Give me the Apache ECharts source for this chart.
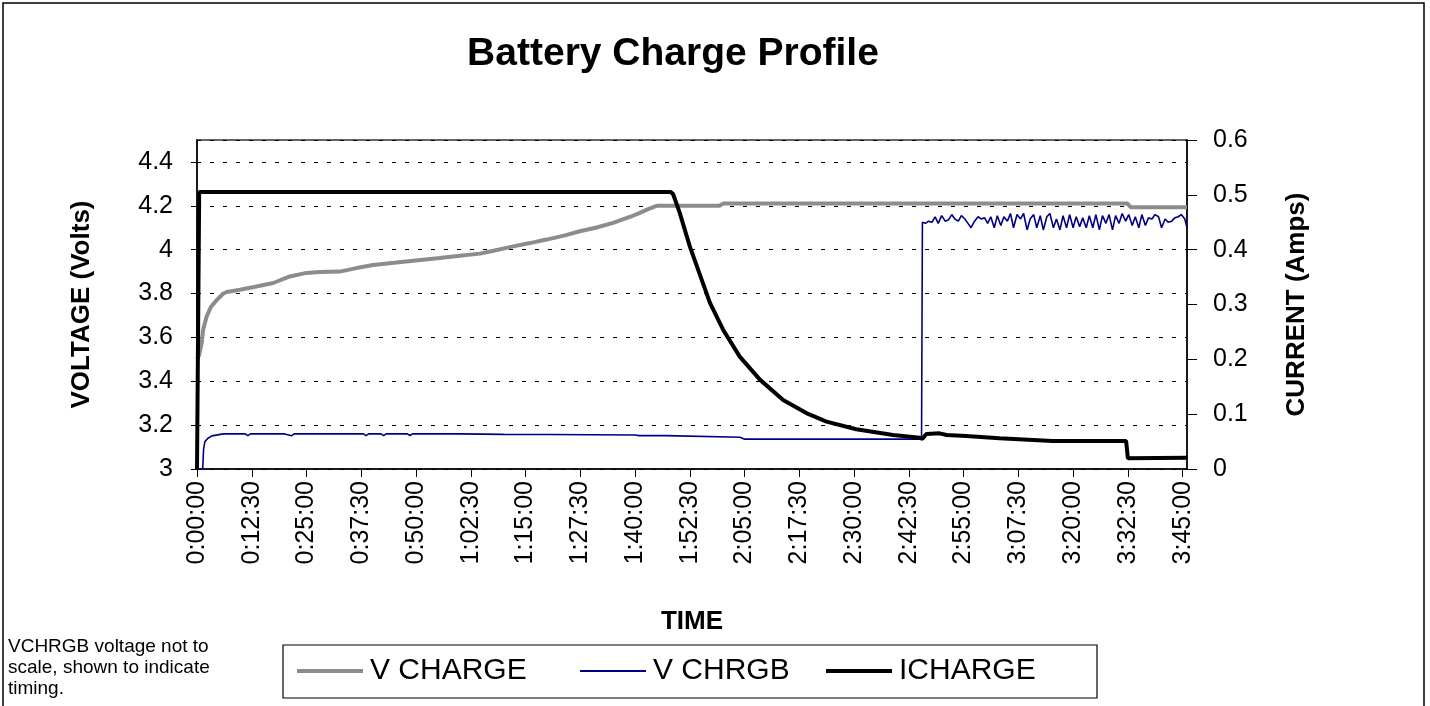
<!DOCTYPE html>
<html>
<head>
<meta charset="utf-8">
<title>Battery Charge Profile</title>
<script src="https://cdn.jsdelivr.net/npm/echarts@6/dist/echarts.min.js"></script>
<style>
	html, body { margin: 0; padding: 0; background: #fff; }
	#chart { width: 1430px; height: 706px; }
</style>
</head>
<body>
<div id="chart"></div>
<script>
// time in minutes from start of charge
var vchargeTime = [0, 0.5, 1.07, 1.4, 2.2, 3.2, 4.5, 6, 6.8, 9.8, 13, 17.4, 21.2, 25, 28, 32.6, 36.4, 40.2, 45, 51.6, 55.4, 60, 64.6, 66.9, 72.2, 76, 79.8, 84, 87.4, 91, 95, 98.8, 101.1, 103, 104.9, 110, 119.3, 120.1, 140, 160, 180, 200, 212.4, 213.2, 226];
var vchargeVolts = [3.50, 3.52, 3.574, 3.635, 3.695, 3.74, 3.77, 3.80, 3.807, 3.817, 3.83, 3.848, 3.878, 3.894, 3.898, 3.90, 3.916, 3.93, 3.94, 3.954, 3.962, 3.972, 3.982, 3.992, 4.015, 4.03, 4.046, 4.065, 4.084, 4.10, 4.122, 4.149, 4.168, 4.185, 4.20, 4.20, 4.20, 4.21, 4.21, 4.21, 4.21, 4.21, 4.21, 4.193, 4.193];

var chrgbTime = [0, 1.3, 1.5, 1.8, 2.5, 3.4, 6, 11, 11.6, 12.2, 20, 21.6, 22.2, 30, 38, 38.6, 39.2, 42, 42.6, 43.2, 48, 48.6, 49.2, 60, 70, 80, 90, 100, 101, 107, 124, 125, 140, 150, 160, 165.4,
	165.6, 166.3, 167, 167.8, 168.5, 169.2, 170, 170.8, 171.5, 172.3, 173, 173.8, 174.5, 175.3, 176, 176.7, 177.5, 178.3, 179, 179.8, 180.5, 181.2, 182, 182.7, 183.5, 184.2, 185, 185.7, 186.4, 187.2, 188, 188.7, 189.5, 190.2, 191, 191.7, 192.5, 193.2, 194, 194.7, 195.5, 196.2, 197, 197.7, 198.5, 199.2, 200, 200.7, 201.5, 202.2, 203, 203.7, 204.5, 205.2, 206, 206.7, 207.5, 208.2, 209, 209.7, 210.5, 211.2, 212, 212.7, 213.5, 214.2, 215, 215.7, 216.5, 217.2, 218, 218.7, 219.5, 220.2, 221, 221.7, 222.5, 223.2, 224, 224.7, 225.5, 226];
var chrgbVolts = [3.0, 3.0, 3.09, 3.125, 3.14, 3.151, 3.16, 3.16, 3.152, 3.16, 3.16, 3.152, 3.16, 3.16, 3.16, 3.152, 3.16, 3.16, 3.152, 3.16, 3.16, 3.153, 3.16, 3.16, 3.158, 3.157, 3.156, 3.155, 3.152, 3.152, 3.145, 3.136, 3.136, 3.136, 3.136, 3.136,
	4.125, 4.12, 4.13, 4.125, 4.15, 4.12, 4.155, 4.13, 4.135, 4.16, 4.14, 4.13, 4.155, 4.14, 4.12, 4.10, 4.13, 4.15, 4.14, 4.145, 4.12, 4.15, 4.10, 4.155, 4.11, 4.15, 4.13, 4.165, 4.10, 4.16, 4.14, 4.165, 4.09, 4.14, 4.16, 4.10, 4.155, 4.09, 4.15, 4.165, 4.10, 4.14, 4.09, 4.155, 4.10, 4.16, 4.10, 4.15, 4.105, 4.145, 4.10, 4.155, 4.10, 4.16, 4.09, 4.155, 4.12, 4.16, 4.09, 4.155, 4.12, 4.165, 4.13, 4.16, 4.11, 4.15, 4.10, 4.16, 4.11, 4.145, 4.14, 4.16, 4.15, 4.10, 4.14, 4.125, 4.13, 4.145, 4.15, 4.16, 4.14, 4.10];

var ichargeTime = [0, 0.4, 0.5, 108.2, 108.7, 110.2, 112.5, 115, 117.1, 120.1, 123.9, 128.5, 133.8, 139.1, 143.7, 150.5, 158.9, 165.0, 165.6, 166.5, 169.5, 171.1, 175.6, 183.2, 195.3, 212.1, 212.5, 226];
var ichargeAmps = [0, 0, 0.505, 0.505, 0.501, 0.467, 0.406, 0.35, 0.303, 0.254, 0.205, 0.163, 0.126, 0.102, 0.0865, 0.0726, 0.062, 0.057, 0.055, 0.064, 0.065, 0.062, 0.060, 0.056, 0.051, 0.051, 0.0196, 0.0207];

var seriesNames = ['V CHARGE', 'V CHRGB', 'ICHARGE'];
var seriesColors = ['#8c8c8c', '#000080', '#000'];
var lineWidths = [4, 1.6, 4];
var legendLeft = [297, 580, 826];

function pairs(xs, ys) {
	return xs.map(function(x, i) {
		return [x, ys[i]];
	});
}

function fmtTime(min) {
	var s = Math.round(min * 60);
	var h = Math.floor(s / 3600);
	var m = Math.floor((s % 3600) / 60);
	var sec = s % 60;
	return h + ':' + (m < 10 ? '0' : '') + m + ':' + (sec < 10 ? '0' : '') + sec;
}

function fmtNum(v) {
	return +v.toFixed(1) + '';
}

var font = 'Liberation Sans';
var chart = echarts.init(document.getElementById('chart'));

// one legend per item so each sits where it does in the original box
var legends = seriesNames.map(function(name, i) {
	return {
		data: [name],
		left: legendLeft[i],
		top: 656,
		icon: 'rect',
		itemWidth: 66,
		itemHeight: lineWidths[i] < 3 ? 2 : 4,
		itemGap: 0,
		padding: 0,
		textStyle: { fontSize: 30, fontFamily: font, color: '#000', padding: [2, 0, 0, 2] },
	};
});

chart.setOption({
	animation: false,
	backgroundColor: '#fff',
	textStyle: { fontFamily: font, color: '#000' },
	title: {
		text: 'Battery Charge Profile',
		left: 668,
		top: 30,
		textAlign: 'center',
		textStyle: { fontSize: 39, fontWeight: 'bold', fontFamily: font, color: '#000' },
	},
	grid: {
		left: 197,
		right: 243,
		top: 140,
		bottom: 237,
		show: true,
		borderColor: '#333',
		borderWidth: 1.5,
	},
	legend: legends,
	xAxis: {
		type: 'value',
		min: 0,
		max: 226,
		interval: 12.5,
		name: 'TIME',
		nameLocation: 'middle',
		nameGap: 140,
		nameTextStyle: { fontSize: 26, fontWeight: 'bold', color: '#000' },
		axisLine: { lineStyle: { color: '#000', width: 1.5 } },
		axisTick: { length: 8, lineStyle: { color: '#000' } },
		axisLabel: {
			rotate: 90,
			fontSize: 25,
			color: '#000',
			margin: 12,
			showMaxLabel: false,
			formatter: fmtTime,
		},
		splitLine: { show: false },
	},
	yAxis: [
		{
			type: 'value',
			min: 3,
			max: 4.5,
			interval: 0.2,
			name: 'VOLTAGE (Volts)',
			nameLocation: 'middle',
			nameRotate: 90,
			nameGap: 102,
			nameTextStyle: { fontSize: 26, fontWeight: 'bold', color: '#000' },
			axisLine: { show: true, lineStyle: { color: '#000', width: 1.5 } },
			axisTick: { show: true, length: 6, lineStyle: { color: '#000' } },
			axisLabel: {
				fontSize: 25,
				color: '#000',
				margin: 24,
				showMaxLabel: false,
				formatter: fmtNum,
			},
			splitLine: { show: true, lineStyle: { color: '#000', width: 1, type: [4, 9] } },
		},
		{
			type: 'value',
			min: 0,
			max: 0.6,
			interval: 0.1,
			position: 'right',
			name: 'CURRENT (Amps)',
			nameLocation: 'middle',
			nameRotate: 90,
			nameGap: 97,
			nameTextStyle: { fontSize: 26, fontWeight: 'bold', color: '#000' },
			axisLine: { show: true, lineStyle: { color: '#000', width: 1.5 } },
			axisTick: { show: true, length: 10, lineStyle: { color: '#000' } },
			axisLabel: {
				fontSize: 25,
				color: '#000',
				margin: 26,
				formatter: fmtNum,
			},
			splitLine: { show: false },
		},
	],
	graphic: [
		{
			type: 'rect',
			shape: { x: 3, y: 3, width: 1421, height: 720 },
			style: { fill: null, stroke: '#000', lineWidth: 1.5 },
			silent: true,
		},
		{
			type: 'rect',
			shape: { x: 283, y: 645, width: 814, height: 53 },
			style: { fill: null, stroke: '#000', lineWidth: 1.2 },
			silent: true,
		},
		{
			type: 'text',
			left: 8,
			top: 636,
			style: {
				text: 'VCHRGB voltage not to\nscale, shown to indicate\ntiming.',
				font: '19px "Liberation Sans"',
				fill: '#000',
				lineHeight: 21,
			},
			silent: true,
		},
	],
	series: [
		{
			name: seriesNames[0],
			type: 'line',
			yAxisIndex: 0,
			symbol: 'none',
			data: pairs(vchargeTime, vchargeVolts),
			lineStyle: { color: seriesColors[0], width: lineWidths[0] },
			itemStyle: { color: seriesColors[0] },
			z: 2,
		},
		{
			name: seriesNames[1],
			type: 'line',
			yAxisIndex: 0,
			symbol: 'none',
			data: pairs(chrgbTime, chrgbVolts),
			lineStyle: { color: seriesColors[1], width: lineWidths[1] },
			itemStyle: { color: seriesColors[1] },
			z: 3,
		},
		{
			name: seriesNames[2],
			type: 'line',
			yAxisIndex: 1,
			symbol: 'none',
			data: pairs(ichargeTime, ichargeAmps),
			lineStyle: { color: seriesColors[2], width: lineWidths[2] },
			itemStyle: { color: seriesColors[2] },
			z: 4,
		},
	],
});
</script>
</body>
</html>
